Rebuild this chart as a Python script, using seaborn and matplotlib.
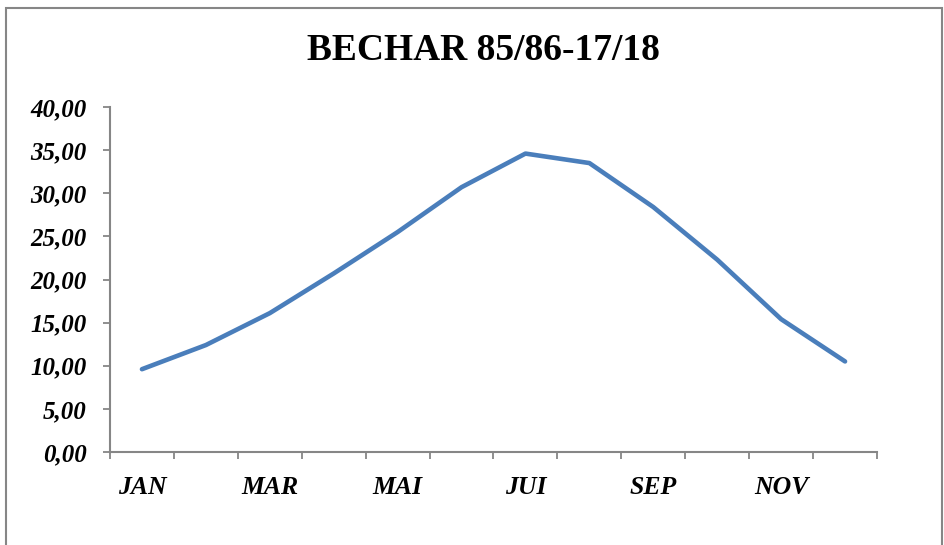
import numpy as np
import pandas as pd
import matplotlib.pyplot as plt
import matplotlib.patches as mpatches
from matplotlib.ticker import FuncFormatter, FixedLocator
import seaborn as sns

# ── données ────────────────────────────────────────────────────────────────────
mois = ["JAN", "FEV", "MAR", "AVR", "MAI", "JUN",
        "JUI", "AOU", "SEP", "OCT", "NOV", "DEC"]
temp = [9.6, 12.4, 16.1, 20.7, 25.5, 30.7,
        34.6, 33.5, 28.4, 22.3, 15.4, 10.5]
mois_affiches = ["JAN", "MAR", "MAI", "JUI", "SEP", "NOV"]

df = pd.DataFrame({"pos": np.arange(len(mois)), "mois": mois, "temp": temp})

sns.set_style("white")
plt.rcParams["font.family"] = ["Liberation Serif", "DejaVu Serif"]
plt.rcParams["text.color"] = "black"

GRIS = "#868686"
fig = plt.figure(figsize=(9.45, 5.45), dpi=100)
ax = fig.add_axes([110 / 945, 1 - 452 / 545, 767 / 945, 345 / 545])

sns.lineplot(data=df, x="pos", y="temp", ax=ax, color="#4A7EBB",
             linewidth=3.3, solid_capstyle="round", solid_joinstyle="round")

ax.set_xlim(-0.5, len(mois) - 0.5)
ax.set_ylim(0, 40)
ax.set_xlabel("")
ax.set_ylabel("")

# axe Y
ax.set_yticks(np.arange(0, 41, 5))
ax.yaxis.set_major_formatter(FuncFormatter(lambda v, p: f"{v:.2f}".replace(".", ",")))
ax.tick_params(axis="y", length=5, width=1.3, color=GRIS, pad=12,
               labelsize=18, left=True, labelcolor="black")
for t in ax.get_yticklabels():
    t.set_fontweight("bold")
    t.set_fontstyle("italic")

# axe X : graduations entre catégories, étiquettes un mois sur deux
ax.xaxis.set_major_locator(FixedLocator([mois.index(m) for m in mois_affiches]))
ax.set_xticklabels(mois_affiches, fontsize=18.5, fontweight="bold", fontstyle="italic")
ax.xaxis.set_minor_locator(FixedLocator(np.arange(-0.5, len(mois), 1.0)))
ax.tick_params(axis="x", which="major", length=0, pad=17, labelcolor="black")
ax.tick_params(axis="x", which="minor", length=5, width=1.3, color=GRIS, bottom=True)

for s in ["top", "right"]:
    ax.spines[s].set_visible(False)
for s in ["left", "bottom"]:
    ax.spines[s].set_color(GRIS)
    ax.spines[s].set_linewidth(1.5)

fig.text(483 / 945, 1 - 50 / 545, "BECHAR 85/86-17/18", ha="center", va="center",
         fontsize=27, fontweight="bold", color="black")

# cadre extérieur du graphique
fig.patches.append(mpatches.Rectangle((6 / 945, -0.05), 936 / 945, 1.05 - 8 / 545,
                                      transform=fig.transFigure, fill=False,
                                      edgecolor=GRIS, linewidth=1.5))

fig.savefig("out.png", dpi=100)
